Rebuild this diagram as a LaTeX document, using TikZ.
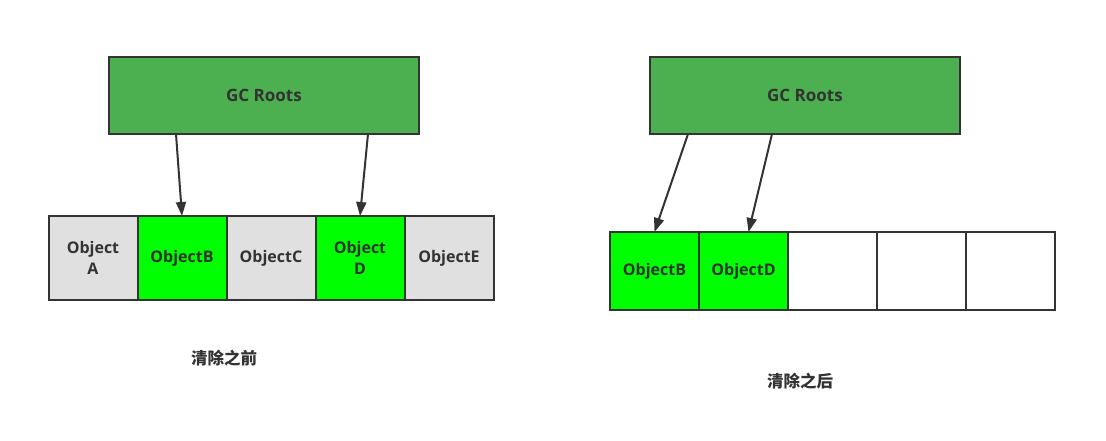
\documentclass[tikz,border=0pt]{standalone}
\usepackage{fontspec}
\setmainfont{Open Sans}
\newfontfamily\cjk{Noto Sans CJK SC}
\usetikzlibrary{positioning,arrows.meta}
\definecolor{rootgreen}{HTML}{4CAF50}
\definecolor{livegreen}{HTML}{00FF00}
\definecolor{deadgray}{HTML}{E0E0E0}
\definecolor{edge}{HTML}{333333}
\begin{document}
\begin{tikzpicture}[x=1pt, y=-1pt, font=\fontsize{16}{21}\selectfont\bfseries, text=edge, node distance=0pt,
  >={Triangle[length=14pt, width=10pt]},
  roots/.style={draw=edge, line width=2pt, fill=rootgreen, minimum width=310pt, minimum height=77pt, outer sep=0pt,
    font=\fontsize{17}{21}\selectfont\bfseries},
  live/.style={draw=edge, line width=2pt, fill=livegreen, minimum width=89pt, minimum height=84pt, outer sep=0pt, align=center},
  dead/.style={live, fill=deadgray},
  free/.style={live, fill=white, minimum height=78pt},
  kept/.style={live, minimum height=78pt},
  ref/.style={->, draw=edge, line width=2pt},
  caption/.style={font=\cjk\fontsize{16.5}{19}\selectfont\bfseries}]
\useasboundingbox (0,0) rectangle (1106,441);
% before the sweep
\node[roots] (rootsL) at (264,95.5) {GC Roots};
\node[dead] (objA) at (93,258) {Object\\A};
\node[live, right=of objA] (objB) {ObjectB};
\node[dead, right=of objB] (objC) {ObjectC};
\node[live, right=of objC] (objD) {Object\\D};
\node[dead, right=of objD] (objE) {ObjectE};
\draw[ref] ([xshift=-88pt]rootsL.south) -- (objB.north);
\draw[ref] ([xshift=104pt]rootsL.south) -- (objD.north);
\node[caption] (capL) at (224,358) {清除之前};
% after the sweep
\node[roots] (rootsR) at (805,95.5) {GC Roots};
\node[kept] (newB) at (654.5,271) {ObjectB};
\node[kept, right=of newB] (newD) {ObjectD};
\node[free, right=of newD] (free1) {};
\node[free, right=of free1] (free2) {};
\node[free, right=of free2] (free3) {};
\draw[ref] ([xshift=-117pt]rootsR.south) -- (newB.north);
\draw[ref] ([xshift=-33pt]rootsR.south) -- ([xshift=5pt]newD.north);
\node[caption] (capR) at (800,381) {清除之后};
\end{tikzpicture}
\end{document}
